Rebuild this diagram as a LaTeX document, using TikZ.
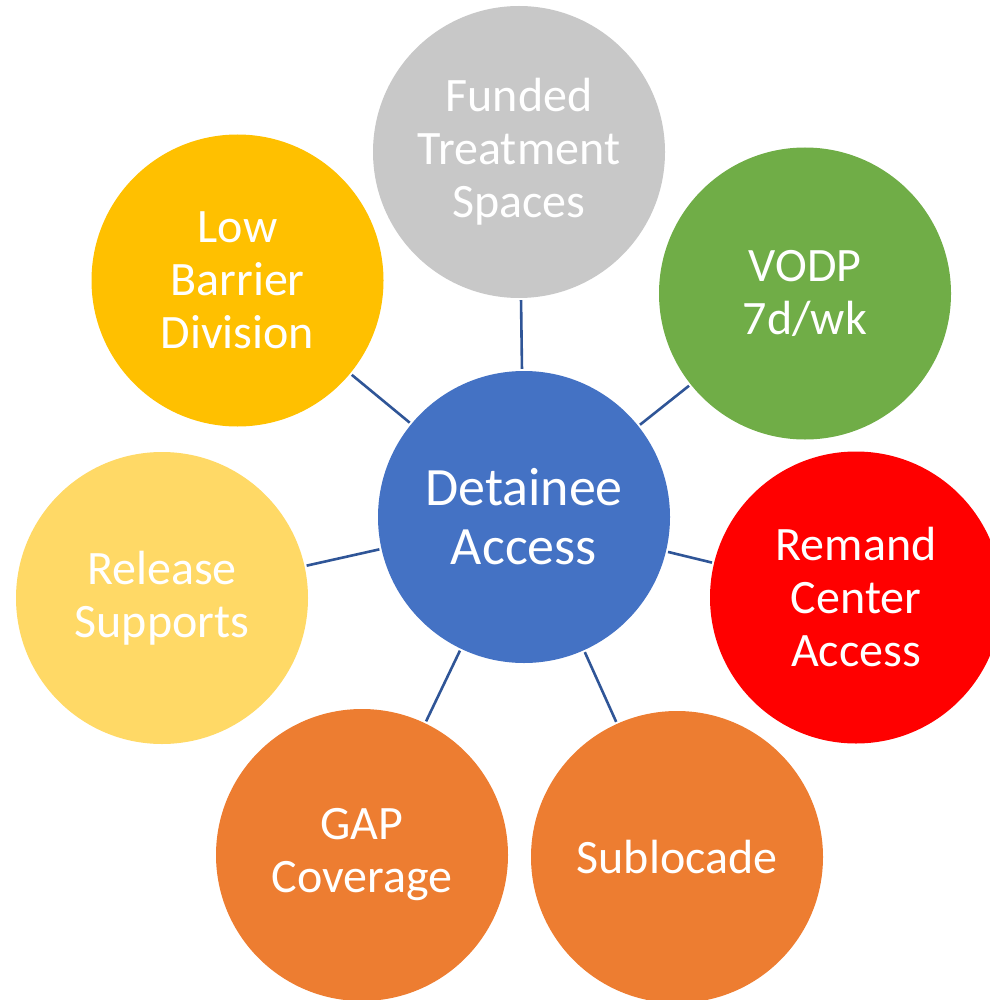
\documentclass[tikz,border=0pt]{standalone}
\usepackage{fontspec}
\setmainfont{Carlito}
\definecolor{cblue}{HTML}{4472C4}
\definecolor{cgray}{HTML}{C8C8C8}
\definecolor{cgreen}{HTML}{70AD47}
\definecolor{cred}{HTML}{FF0000}
\definecolor{corange}{HTML}{ED7D31}
\definecolor{cgold}{HTML}{FFC000}
\definecolor{clight}{HTML}{FFD966}
\definecolor{cline}{HTML}{2F5597}
\tikzset{
  bubble/.style={circle, minimum size=292pt, inner sep=0pt, draw=none, text=white, align=center,
    font=\fontsize{48}{53}\selectfont},
  hub/.style={bubble, fill=cblue, font=\fontsize{54}{59}\selectfont},
  link/.style={cline, line width=2.6pt, shorten <=2pt, shorten >=2pt}
}
\begin{document}
\begin{tikzpicture}[x=1pt,y=-1pt]
\useasboundingbox (0,0) rectangle (989,1000);
\node[hub] (c) at (524,517) {Detainee\\Access};
\node[bubble, fill=cgray] (f) at (519,152) {Funded\\Treatment\\Spaces};
\node[bubble, fill=cgreen] (v) at (805,293.5) {VODP\\7d/wk};
\node[bubble, fill=cred] (r) at (856,597.5) {Remand\\Center\\Access};
\node[bubble, fill=corange] (s) at (677,857) {Sublocade};
\node[bubble, fill=corange] (g) at (362,855) {GAP\\Coverage};
\node[bubble, fill=clight] (rs) at (162,598) {Release\\Supports};
\node[bubble, fill=cgold] (l) at (237.5,280.5) {Low\\Barrier\\Division};
\foreach \n in {f,v,r,s,g,rs,l} \draw[link] (c) -- (\n);
\end{tikzpicture}
\end{document}
